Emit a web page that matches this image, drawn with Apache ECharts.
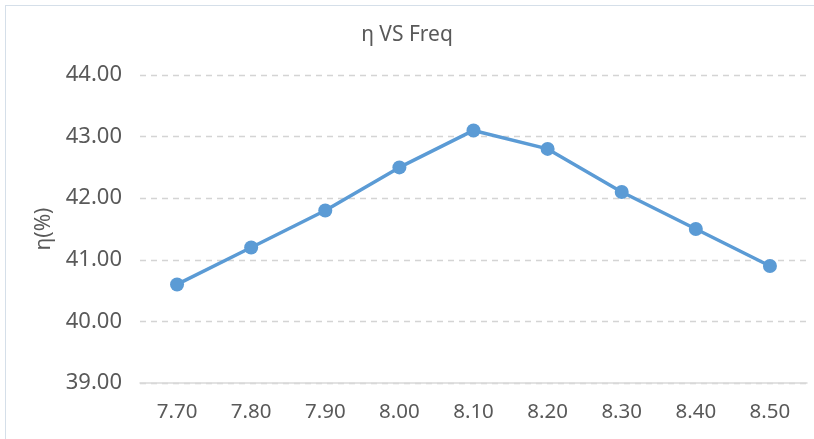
<!DOCTYPE html>
<html>
<head>
<meta charset="utf-8">
<script src="https://cdn.jsdelivr.net/npm/echarts@6/dist/echarts.min.js"></script>
<style>
  html, body { margin: 0; padding: 0; background: #fff; }
  #frame { position: absolute; left: 5px; top: 5px; width: 830px; height: 460px; border: 1px solid #d5dfe9; box-sizing: border-box; }
  #chart { position: absolute; left: 0; top: 0; width: 814px; height: 439px; }
</style>
</head>
<body>
<div id="frame"></div>
<div id="chart"></div>
<script>
// x categories (frequency) and efficiency values
const freqLabels = ['7.70', '7.80', '7.90', '8.00', '8.10', '8.20', '8.30', '8.40', '8.50']
const etaValues = [40.6, 41.2, 41.8, 42.5, 43.1, 42.8, 42.1, 41.5, 40.9]

const textColor = '#595959'
const fontFamily = '"Noto Sans", sans-serif'

const chart = echarts.init(document.getElementById('chart'))

const option = {
  animation: false,
  title: {
    text: 'η VS Freq',
    left: 'center',
    top: 20,
    textStyle: {
      color: textColor,
      fontSize: 21,
      fontWeight: 'normal',
      fontFamily: fontFamily
    }
  },
  grid: {
    left: 140,
    right: 7,
    top: 75,
    bottom: 56
  },
  xAxis: {
    type: 'category',
    data: freqLabels,
    axisTick: { show: false },
    axisLine: { lineStyle: { color: '#d9d9d9', width: 1.5 } },
    axisLabel: {
      color: textColor,
      fontSize: 20.5,
      fontFamily: fontFamily,
      margin: 19
    }
  },
  yAxis: {
    type: 'value',
    min: 39,
    max: 44,
    interval: 1,
    name: 'η(%)',
    nameLocation: 'middle',
    nameGap: 84,
    nameTextStyle: {
      color: textColor,
      fontSize: 21,
      fontFamily: fontFamily
    },
    axisLine: { show: false },
    axisTick: { show: false },
    axisLabel: {
      color: textColor,
      fontSize: 22,
      fontFamily: fontFamily,
      margin: 18,
      formatter: v => v.toFixed(2)
    },
    splitLine: {
      lineStyle: { color: '#d4d4d4', type: [6, 5], width: 1.3 }
    }
  },
  series: [
    {
      name: 'η',
      type: 'line',
      data: etaValues,
      symbol: 'circle',
      symbolSize: 14,
      lineStyle: { color: '#5b9bd5', width: 3.5 },
      itemStyle: { color: '#5b9bd5' }
    }
  ]
}

chart.setOption(option)
</script>
</body>
</html>
